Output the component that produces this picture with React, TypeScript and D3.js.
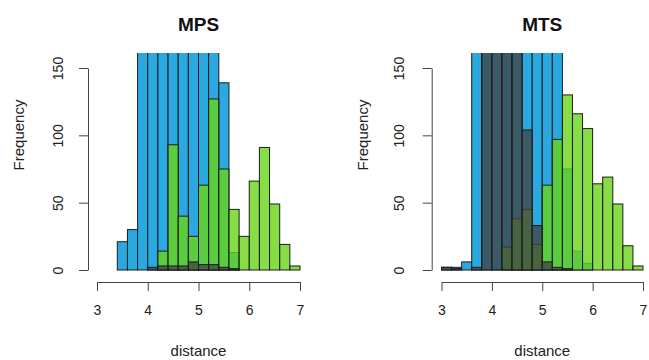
import { useEffect, useRef } from 'react';
import * as d3 from 'd3';

// histogram breaks (bin width 0.2), shared by both panels
const breaks = [3.0, 3.2, 3.4, 3.6, 3.8, 4.0, 4.2, 4.4, 4.6, 4.8, 5.0, 5.2, 5.4, 5.6, 5.8, 6.0, 6.2, 6.4, 6.6, 6.8, 7.0];

// counts per bin (bars above ~160 are clipped, so those are guesses)
const mpsBlue = [0, 0, 21, 30, 240, 420, 520, 560, 480, 380, 300, 190, 139, 13, 0, 0, 0, 0, 0, 0];
const mpsGreen = [0, 0, 0, 0, 0, 0, 14, 93, 40, 25, 63, 127, 75, 45, 25, 66, 91, 49, 19, 3];
const mpsGray = [0, 0, 0, 0, 0, 2, 3, 3, 3, 6, 4, 4, 2, 1, 0, 0, 0, 0, 0, 0];

const mtsBlue = [2, 2, 6, 200, 380, 520, 560, 480, 360, 260, 210, 180, 75, 14, 5, 0, 0, 0, 0, 0];
const mtsGreen = [0, 0, 0, 0, 0, 0, 17, 38, 45, 19, 63, 97, 130, 116, 105, 64, 69, 49, 18, 3];
const mtsGray = [2, 1, 0, 2, 220, 350, 380, 260, 104, 33, 6, 2, 1, 0, 0, 0, 0, 0, 0, 0];

const xTicks = [3, 4, 5, 6, 7];
const yTicks = [0, 50, 100, 150];

const FONT = '"Liberation Sans", Arial, Helvetica, sans-serif';

const panels = [
    { title: 'MPS', blue: mpsBlue, green: mpsGreen, gray: mpsGray, x0: 97, x1: 300, axisX: 88, labelOff: 25 },
    { title: 'MTS', blue: mtsBlue, green: mtsGreen, gray: mtsGray, x0: 441.5, x1: 643, axisX: 431.7, labelOff: 28 },
];

const App = () => {
    const ref = useRef<SVGSVGElement>(null);

    useEffect(() => {
        const svg = d3.select(ref.current);
        svg.selectAll('*').remove();

        const y = d3.scaleLinear().domain([0, 150]).range([270, 68]);

        panels.forEach((p, pi) => {
            const x = d3.scaleLinear().domain([3, 7]).range([p.x0, p.x1]);
            const g = svg.append('g');

            // clip bars at the top of the plot region
            const clipId = `clip-${pi}`;
            svg.append('clipPath').attr('id', clipId)
                .append('rect')
                .attr('x', p.x0 - 2).attr('y', 53)
                .attr('width', p.x1 - p.x0 + 6).attr('height', 220);

            const bars = g.append('g').attr('clip-path', `url(#${clipId})`);

            const drawSeries = (counts: number[], fill: string, opacity: number) => {
                const bins = breaks.slice(0, -1)
                    .map((b, i) => ({ a: b, b: breaks[i + 1], n: counts[i] }))
                    .filter(d => d.n > 0);
                bars.append('g')
                    .selectAll('rect')
                    .data(bins)
                    .enter().append('rect')
                    .attr('x', d => x(d.a))
                    .attr('y', d => y(d.n))
                    .attr('width', d => x(d.b) - x(d.a))
                    .attr('height', d => y(0) - y(d.n))
                    .attr('fill', fill)
                    .attr('fill-opacity', opacity)
                    .attr('stroke', '#1c1c1c')
                    .attr('stroke-width', 1);
            };

            drawSeries(p.blue, '#29a9e0', 1);
            drawSeries(p.green, 'rgb(104,212,22)', 0.8);
            drawSeries(p.gray, '#404040', 0.75);

            // x axis
            const xa = g.append('g')
                .attr('transform', 'translate(0,282)')
                .call(d3.axisBottom(x).tickValues(xTicks).tickFormat(d3.format('d')).tickSize(9).tickPadding(14).tickSizeOuter(0));
            xa.select('.domain').attr('stroke', '#444');
            xa.selectAll('.tick line').attr('stroke', '#444');
            xa.selectAll('text').attr('font-size', 14).attr('font-family', FONT).attr('fill', '#222');

            // y axis
            const ya = g.append('g')
                .attr('transform', `translate(${p.axisX},0)`)
                .call(d3.axisLeft(y).tickValues(yTicks).tickSize(9).tickSizeOuter(0));
            ya.select('.domain').attr('stroke', '#444');
            ya.selectAll('.tick line').attr('stroke', '#444');
            ya.selectAll('text')
                .attr('font-size', 14).attr('font-family', FONT).attr('fill', '#222')
                .attr('transform', 'rotate(-90)')
                .attr('x', 0).attr('y', -p.labelOff).attr('dy', 0)
                .attr('text-anchor', 'middle');

            const mid = (p.x0 + p.x1) / 2;

            g.append('text')
                .attr('x', mid).attr('y', 31)
                .attr('text-anchor', 'middle')
                .attr('font-family', FONT).attr('font-weight', 'bold').attr('font-size', 19)
                .attr('fill', '#111')
                .text(p.title);

            g.append('text')
                .attr('x', mid).attr('y', 356)
                .attr('text-anchor', 'middle')
                .attr('font-family', FONT).attr('font-size', 15)
                .attr('fill', '#222')
                .text('distance');

            g.append('text')
                .attr('transform', `translate(${p.axisX - 64},135) rotate(-90)`)
                .attr('text-anchor', 'middle')
                .attr('font-family', FONT).attr('font-size', 15)
                .attr('fill', '#222')
                .text('Frequency');
        });
    }, []);

    return (
        <svg ref={ref} width={649} height={360}
            style={{ position: 'absolute', left: 0, top: 0, background: '#fff' }} />
    );
};

export default App;
